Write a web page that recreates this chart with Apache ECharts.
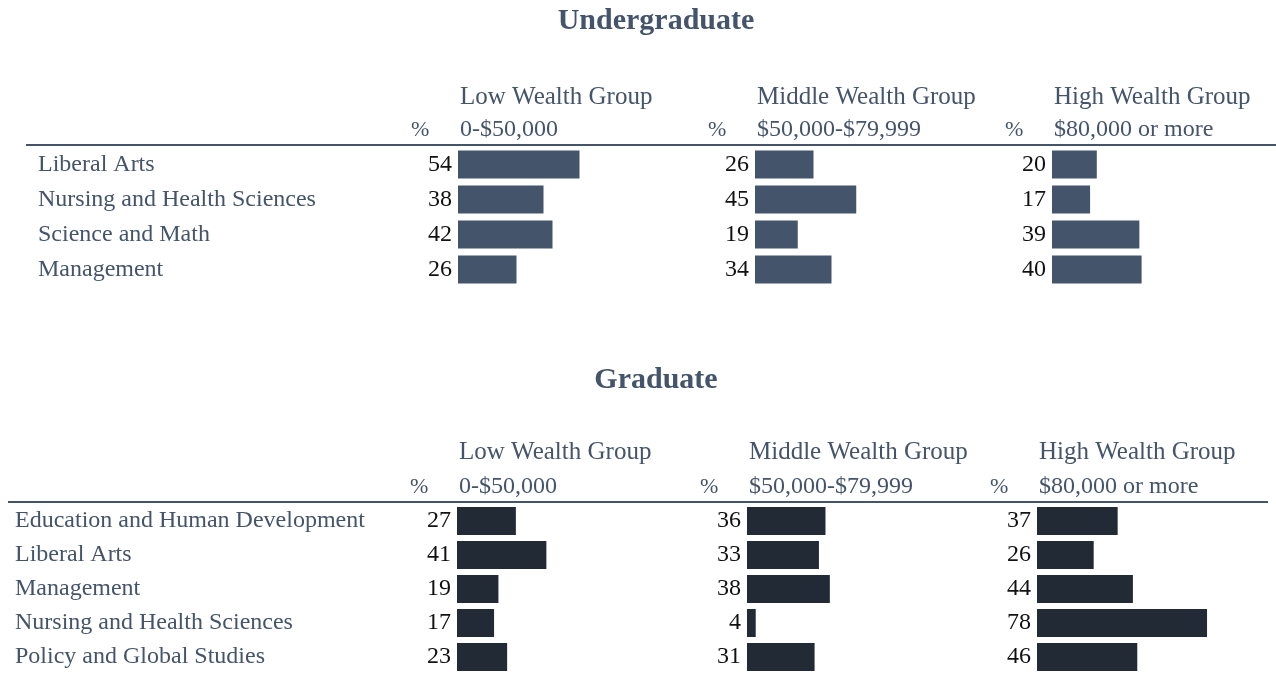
<!DOCTYPE html>
<html>
<head>
<meta charset="utf-8">
<script src="https://cdn.jsdelivr.net/npm/echarts@6/dist/echarts.min.js"></script>
<style>
  html, body { margin: 0; padding: 0; background: #fff; }
  #chart { width: 1276px; height: 675px; }
</style>
</head>
<body>
<div id="chart"></div>
<script>
  // data
  const groupNames = ['Low Wealth Group', 'Middle Wealth Group', 'High Wealth Group'];
  const groupRanges = ['0-$50,000', '$50,000-$79,999', '$80,000 or more'];

  const ugCategories = ['Liberal Arts', 'Nursing and Health Sciences', 'Science and Math', 'Management'];
  const ugLow = [54, 38, 42, 26];
  const ugMiddle = [26, 45, 19, 34];
  const ugHigh = [20, 17, 39, 40];

  const gradCategories = ['Education and Human Development', 'Liberal Arts', 'Management',
    'Nursing and Health Sciences', 'Policy and Global Studies'];
  const gradLow = [27, 41, 19, 17, 23];
  const gradMiddle = [36, 33, 38, 4, 31];
  const gradHigh = [37, 26, 44, 78, 46];

  const FONT = 'Liberation Serif';
  const SLATE = '#44546a';
  const DARK = '#222a35';

  let chart = echarts.init(document.getElementById('chart'));

  // one block = title + 3 panels
  const blocks = [
    { title: 'Undergraduate', titleY: 21, cats: ugCategories, data: [ugLow, ugMiddle, ugHigh],
      lefts: [458, 755, 1052], width: 225, top: 147, rowH: 35, color: SLATE,
      labelX: 38, headY1: 97, headY2: 130, lineY: 145, lineX: [26, 1276] },
    { title: 'Graduate', titleY: 380, cats: gradCategories, data: [gradLow, gradMiddle, gradHigh],
      lefts: [457, 747, 1037], width: 218, top: 504, rowH: 34, color: DARK,
      labelX: 15, headY1: 452, headY2: 487, lineY: 502, lineX: [8, 1268] }
  ];

  let grids = [], xAxes = [], yAxes = [], series = [], graphics = [];

  blocks.forEach(b => {
    graphics.push({
      type: 'text', x: 656, y: b.titleY,
      style: { text: b.title, fill: SLATE, font: 'bold 30px ' + FONT, textAlign: 'center', textVerticalAlign: 'middle' }
    });
    graphics.push({
      type: 'line', shape: { x1: b.lineX[0], y1: b.lineY, x2: b.lineX[1], y2: b.lineY },
      style: { stroke: SLATE, lineWidth: 2 }
    });
    b.lefts.forEach((left, i) => {
      const idx = grids.length;
      graphics.push({
        type: 'text', x: left + 2, y: b.headY1,
        style: { text: groupNames[i], fill: SLATE, font: '25px ' + FONT, textVerticalAlign: 'middle' }
      });
      graphics.push({
        type: 'text', x: left + 2, y: b.headY2,
        style: { text: groupRanges[i], fill: SLATE, font: '24px ' + FONT, textVerticalAlign: 'middle' }
      });
      graphics.push({
        type: 'text', x: left - 47, y: b.headY2,
        style: { text: '%', fill: SLATE, font: '22px ' + FONT, textVerticalAlign: 'middle' }
      });
      grids.push({ left: left, top: b.top, width: b.width, height: b.rowH * b.cats.length });
      xAxes.push({ type: 'value', gridIndex: idx, min: 0, max: 100, show: false });
      yAxes.push({
        type: 'category', gridIndex: idx, data: b.cats, inverse: true,
        axisLine: { show: false }, axisTick: { show: false }, splitLine: { show: false },
        axisLabel: {
          show: i === 0, align: 'left', margin: left - b.labelX,
          color: SLATE, fontFamily: FONT, fontSize: 24
        }
      });
      series.push({
        type: 'bar', xAxisIndex: idx, yAxisIndex: idx, data: b.data[i],
        barWidth: 28, itemStyle: { color: b.color },
        label: { show: true, position: 'left', distance: 6, color: '#111', fontFamily: FONT, fontSize: 24 },
        silent: true
      });
    });
  });

  chart.setOption({
    animation: false,
    grid: grids,
    xAxis: xAxes,
    yAxis: yAxes,
    series: series,
    graphic: graphics
  });
</script>
</body>
</html>
